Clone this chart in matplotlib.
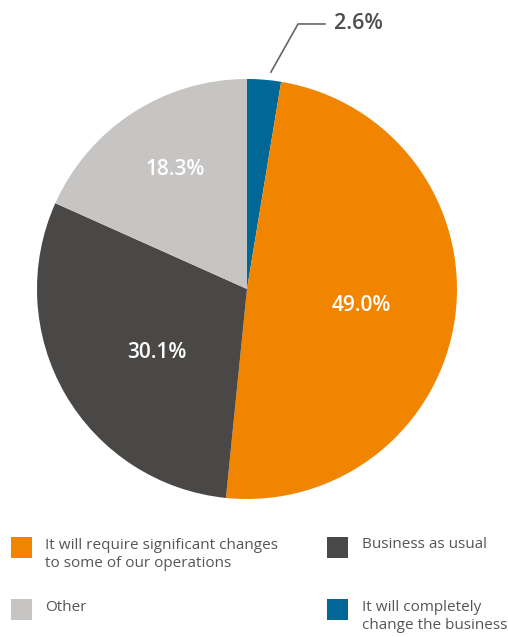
import matplotlib
matplotlib.use("Agg")
import matplotlib.pyplot as plt
from matplotlib.patches import Rectangle

plt.rcParams['font.family'] = ['Open Sans', 'DejaVu Sans']

# Share of responses, clockwise from 12 o'clock
categories = ["It will completely\nchange the business",
              "It will require significant changes\nto some of our operations",
              "Business as usual",
              "Other"]
values = [2.6, 49.0, 30.1, 18.3]
labels = ["2.6%", "49.0%", "30.1%", "18.3%"]
colors = ["#006797", "#F28500", "#4A4846", "#C6C5C4"]

W, H = 508, 637
fig = plt.figure(figsize=(W / 100, H / 100), dpi=100)

# Pie axes placed so the circle is centred at (247, 289) px with radius 210 px
cx, cy, R = 247, 289, 210
ax = fig.add_axes([(cx - R) / W, (H - cy - R) / H, 2 * R / W, 2 * R / H])
wedges, _ = ax.pie(values, colors=colors, startangle=90, counterclock=False,
                   radius=1.0, wedgeprops=dict(linewidth=0))
ax.set_xlim(-1, 1)
ax.set_ylim(-1, 1)
ax.set_aspect('equal')
ax.axis('off')

# In-slice percentage labels (positions in pie units)
label_pos = [None, (0.543, -0.080), (-0.428, -0.300), (-0.343, 0.570)]
for pos, lab in zip(label_pos, labels):
    if pos is None:
        continue
    ax.text(pos[0], pos[1], lab, ha='center', va='center', color='white',
            fontsize=15, fontweight='semibold')

# Callout for the small slice
ax.plot([0.114, 0.243, 0.371], [1.033, 1.262, 1.262], color='#666666',
        lw=1.2, clip_on=False)
ax.text(0.415, 1.262, labels[0], ha='left', va='center', color='#4D4D4D',
        fontsize=15.5, fontweight='semibold', clip_on=False)

# Legend drawn in pixel positions
legend_items = [
    (1, 11, 537, 45, 545),
    (2, 327, 537, 362, 544),
    (3, 11, 599, 45, 607),
    (0, 327, 599, 362, 607),
]
for idx, sx, sy, tx, ty in legend_items:
    fig.patches.append(Rectangle((sx / W, 1 - (sy + 21) / H), 21 / W, 21 / H,
                                 transform=fig.transFigure,
                                 facecolor=colors[idx], edgecolor='none'))
    fig.text(tx / W, 1 - (ty - 7) / H, categories[idx], ha='left', va='top',
             color='#555555', fontsize=11, linespacing=1.28)

fig.savefig("out.png", dpi=100)
